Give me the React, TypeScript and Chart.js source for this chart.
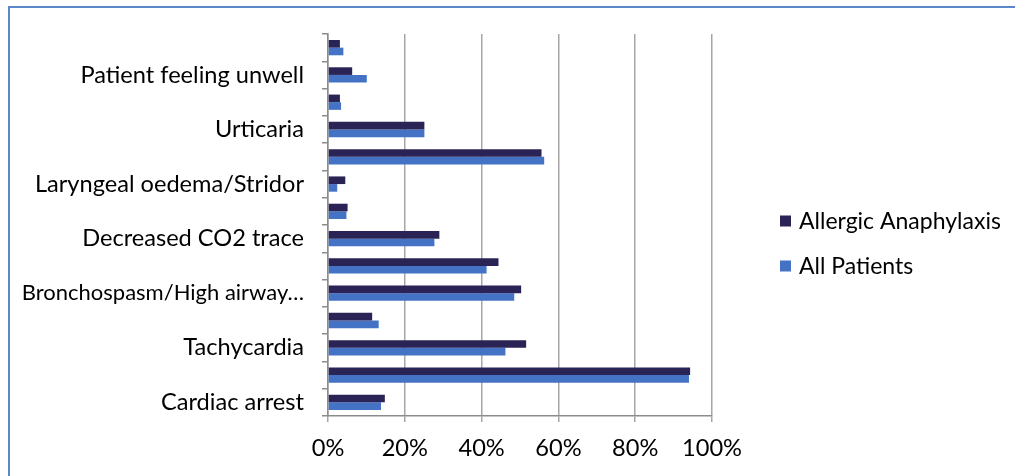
import React, { useEffect, useRef } from "react";
import { Chart, registerables } from "chart.js";

Chart.register(...registerables);

// Categories listed top to bottom (as they appear in the chart)
const categories: string[] = [
  "Other",
  "Patient feeling unwell",
  "Angioedema",
  "Urticaria",
  "Rash/Flushing",
  "Laryngeal oedema/Stridor",
  "Arrhythmia",
  "Decreased CO2 trace",
  "Desaturation",
  "Bronchospasm/High airway pressure",
  "Bradycardia",
  "Tachycardia",
  "Hypotension",
  "Cardiac arrest",
];

const allergicAnaphylaxis: number[] = [3.1, 6.3, 3.1, 25.1, 55.6, 4.5, 5.1, 29.0, 44.4, 50.3, 11.5, 51.6, 94.3, 14.8];
const allPatients: number[] = [4.0, 10.1, 3.4, 25.1, 56.3, 2.4, 4.8, 27.7, 41.3, 48.5, 13.2, 46.2, 94.0, 13.8];

const xTicks: number[] = [0, 20, 40, 60, 80, 100];

const FONT = "Lato, 'Open Sans', sans-serif";
const AXIS_FONT_SIZE = 23.6;
const LEGEND_FONT_SIZE = 23;
const MAX_LABEL = 25;

const truncate = (lbl: string) => (lbl.length > MAX_LABEL ? lbl.slice(0, MAX_LABEL - 1) + "…" : lbl);

const legendPlugin = {
  id: "customLegend",
  afterDraw(chart: any) {
    const ctx = chart.ctx;
    const x0 = 770;
    const centers = [213, 258];
    ctx.save();
    ctx.font = `${LEGEND_FONT_SIZE}px ${FONT}`;
    ctx.textBaseline = "middle";
    ctx.textAlign = "left";
    chart.data.datasets.forEach((ds: any, i: number) => {
      const cy = centers[i];
      ctx.fillStyle = ds.backgroundColor;
      ctx.fillRect(x0, cy - 5.5, 11, 11);
      ctx.fillStyle = "#000000";
      ctx.fillText(ds.label, x0 + 19, cy + 1);
    });
    ctx.restore();
  },
};

export default function App() {
  const canvasRef = useRef<HTMLCanvasElement | null>(null);

  useEffect(() => {
    document.body.style.overflow = "hidden";
    const canvas = canvasRef.current;
    if (!canvas) return;
    const chart = new Chart(canvas, {
      type: "bar",
      data: {
        labels: categories,
        datasets: [
          {
            label: "Allergic Anaphylaxis",
            data: allergicAnaphylaxis,
            backgroundColor: "#2a2356",
            borderWidth: 0,
            categoryPercentage: 0.56,
            barPercentage: 1,
          },
          {
            label: "All Patients",
            data: allPatients,
            backgroundColor: "#4472c4",
            borderWidth: 0,
            categoryPercentage: 0.56,
            barPercentage: 1,
          },
        ],
      },
      options: {
        indexAxis: "y",
        responsive: false,
        animation: false,
        layout: { padding: { top: 26, right: 303, left: 0, bottom: 0 } },
        plugins: {
          legend: { display: false },
          tooltip: { enabled: false },
        },
        scales: {
          x: {
            type: "linear",
            min: 0,
            max: 100,
            afterFit: (s: any) => {
              s.height = 60;
              s.paddingLeft = 0;
              s.paddingRight = 0;
            },
            afterBuildTicks: (s: any) => {
              s.ticks = xTicks.map((v) => ({ value: v }));
            },
            ticks: {
              callback: (v: any) => `${v}%`,
              color: "#000000",
              font: { family: FONT, size: AXIS_FONT_SIZE },
              padding: 12,
              maxRotation: 0,
            },
            grid: {
              color: "#a6a6a6",
              lineWidth: 1.5,
              drawTicks: true,
              tickLength: 6,
            },
            border: { color: "#8c8c8c", width: 1.5 },
          },
          y: {
            type: "category",
            afterFit: (s: any) => {
              s.width = 318;
              s.paddingTop = 0;
              s.paddingBottom = 0;
            },
            ticks: {
              autoSkip: false,
              color: "#000000",
              font: (c: any) => ({
                family: FONT,
                size: categories[c.index] && categories[c.index].length > MAX_LABEL ? 22 : AXIS_FONT_SIZE,
              }),
              padding: 18,
              callback: (_v: any, i: number) => (i % 2 === 0 ? "" : truncate(categories[i])),
            },
            grid: {
              offset: true,
              drawOnChartArea: false,
              drawTicks: true,
              tickLength: 6,
              color: "#8c8c8c",
              lineWidth: 1.5,
            },
            border: { color: "#8c8c8c", width: 1.5 },
          },
        },
      },
      plugins: [legendPlugin],
    });
    return () => chart.destroy();
  }, []);

  return (
    <div
      style={{
        position: "absolute",
        top: 6,
        left: 8,
        width: 1005,
        height: 468,
        borderTop: "2px solid #5b87c9",
        borderLeft: "2px solid #5b87c9",
      }}
    >
      <canvas ref={canvasRef} width={1005} height={468} style={{ display: "block" }} />
    </div>
  );
}
